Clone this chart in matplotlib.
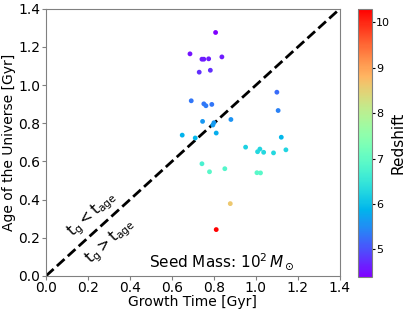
import matplotlib
matplotlib.use('Agg')
import matplotlib.pyplot as plt

# growth time [Gyr], age of the universe [Gyr], redshift
growth_time = [0.808, 0.686, 0.838, 0.743, 0.752, 0.775, 0.730, 0.783,
               1.100, 0.692, 0.752, 0.762, 0.790, 1.106,
               0.746, 0.881, 0.800, 0.795, 0.649, 0.711, 0.811, 1.121,
               0.951, 1.019, 1.008, 1.037, 1.084, 1.143,
               0.743, 0.852, 0.779, 1.005, 1.022,
               0.878, 0.811]
age_universe = [1.276, 1.164, 1.148, 1.136, 1.136, 1.138, 1.068, 1.078,
                0.963, 0.918, 0.902, 0.892, 0.899, 0.867,
                0.810, 0.820, 0.803, 0.791, 0.738, 0.723, 0.749, 0.727,
                0.675, 0.665, 0.651, 0.648, 0.645, 0.661,
                0.588, 0.562, 0.546, 0.541, 0.540,
                0.379, 0.243]
redshift = [4.4, 4.55, 4.6, 4.6, 4.6, 4.6, 4.75, 4.75,
            5.2, 5.3, 5.3, 5.35, 5.3, 5.4,
            5.6, 5.55, 5.6, 5.65, 5.85, 5.9, 5.8, 5.9,
            6.2, 6.25, 6.3, 6.3, 6.3, 6.25,
            6.7, 6.85, 6.9, 6.9, 6.9,
            8.6, 10.3]
ticks = [0.0, 0.2, 0.4, 0.6, 0.8, 1.0, 1.2, 1.4]
cbar_ticks = [5, 6, 7, 8, 9, 10]

fig = plt.figure(figsize=(4.07, 3.15), dpi=100)
ax = fig.add_axes([0.113, 0.124, 0.722, 0.848])
cax = fig.add_axes([0.880, 0.121, 0.034, 0.851])

sc = ax.scatter(growth_time, age_universe, c=redshift, cmap='rainbow',
                vmin=4.39, vmax=10.3, s=12, edgecolors='none', zorder=3)
ax.plot([0, 1.4], [0, 1.4], color='black', lw=2, linestyle='--', zorder=2)

ax.text(0.218, 0.322, r'$\mathrm{t_g < t_{age}}$', rotation=42, fontsize=11,
        ha='center', va='center')
ax.text(0.305, 0.182, r'$\mathrm{t_g > t_{age}}$', rotation=42, fontsize=11,
        ha='center', va='center')
ax.text(0.60, 0.052, r'Seed Mass: $10^2\,M_\odot$', transform=ax.transAxes,
        fontsize=11, ha='center', va='center')

ax.set_xlim(0, 1.4)
ax.set_ylim(0, 1.4)
ax.set_xticks(ticks)
ax.set_yticks(ticks)
ax.set_xlabel('Growth Time [Gyr]', fontsize=10, labelpad=0)
ax.set_ylabel('Age of the Universe [Gyr]', fontsize=10, labelpad=2)
ax.tick_params(labelsize=10, length=3, pad=1, color='gray')
for sp in ax.spines.values():
    sp.set_color('gray')

cb = fig.colorbar(sc, cax=cax, ticks=cbar_ticks)
cb.set_label('Redshift', fontsize=11, labelpad=0)
cb.ax.tick_params(labelsize=8, length=2, pad=1)
cb.outline.set_edgecolor('gray')

fig.savefig('out.png', dpi=100)
